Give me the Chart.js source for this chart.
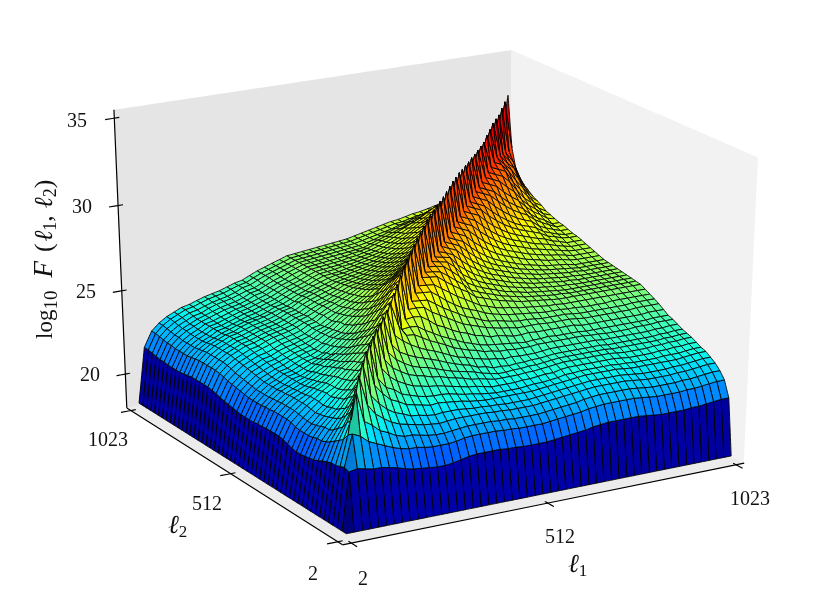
<!DOCTYPE html>
<html>
<head>
<meta charset="utf-8">
<script src="https://cdn.jsdelivr.net/npm/chart.js@4"></script>
<style>
  body { margin: 0; background: #fff; }
  canvas { display: block; }
</style>
</head>
<body>
<canvas id="chart" width="813" height="613"></canvas>
<script>
// grid positions on both axes
var gridValues = [2,22,43,63,84,104,124,145,165,186,206,226,247,267,288,308,329,349,369,390,410,431,451,471,492,512,533,553,573,594,614,635,655,675,696,716,737,757,777,798,818,839,859,879,900,920,941,961,981,1002,1023];
var l1Ticks = [2, 512, 1023];
var l2Ticks = [2, 512, 1023];
var zTicks = [20, 25, 30, 35];

// log10 F, row i holds columns 0..i (F is symmetric)
var heights = [
[18.3],
[18.3,21.6],
[18.3,21.7,23.5],
[18.3,21.6,23.3,25.8],
[18.3,21.5,22.9,23.9,26.3],
[18.3,21.5,22.7,23.6,24.6,26.8],
[18.3,21.4,22.5,23.2,24,24.9,27.2],
[18.3,21.3,22.3,23,23.65,24.35,25.25,27.4],
[18.3,21.15,22.15,22.75,23.35,23.95,24.7,25.4,27.6],
[18.3,21.05,22.05,22.6,23.15,23.65,24.25,24.8,25.75,27.8],
[18.3,21,22.05,22.6,23.05,23.5,24.05,24.6,25.2,26,27.9],
[18.3,20.95,21.95,22.5,22.95,23.3,23.8,24.25,24.85,25.45,26.2,28.05],
[18.3,20.9,21.9,22.4,22.85,23.25,23.7,24.1,24.6,25.15,25.7,26.4,28.2],
[18.3,20.9,21.9,22.35,22.8,23.15,23.6,23.95,24.4,24.9,25.4,25.9,26.7,28.4],
[18.3,20.95,21.9,22.35,22.75,23.1,23.5,23.85,24.3,24.75,25.15,25.65,26.3,27.05,28.7],
[18.3,21.05,21.95,22.4,22.8,23.15,23.55,23.8,24.2,24.65,25,25.45,26,26.4,26.6,29],
[18.3,21.15,22.05,22.45,22.85,23.15,23.5,23.8,24.15,24.5,24.9,25.3,25.75,26.35,26.65,26.95,29.3],
[18.3,21.2,22.1,22.5,22.85,23.15,23.45,23.75,24.05,24.45,24.75,25.15,25.55,26.1,26.6,27,27.3,29.6],
[18.3,21.2,22.1,22.5,22.85,23.1,23.4,23.65,23.95,24.3,24.6,25,25.4,25.85,26.3,26.95,27.3,27.55,29.8],
[18.3,21.2,22.1,22.5,22.85,23.05,23.3,23.55,23.85,24.2,24.45,24.8,25.2,25.65,26.05,26.65,27.25,27.5,27.8,30],
[18.3,21.2,22.1,22.5,22.85,23.05,23.25,23.5,23.75,24.1,24.35,24.65,25,25.45,25.8,26.3,26.9,27.45,27.75,28,30.2],
[18.3,21.15,22.05,22.45,22.8,23,23.2,23.4,23.7,23.95,24.25,24.5,24.8,25.2,25.6,26.1,26.65,27.15,27.7,27.95,28.25,30.35],
[18.3,21.15,22.05,22.45,22.8,23,23.2,23.35,23.6,23.9,24.15,24.4,24.7,25.05,25.4,25.85,26.4,26.85,27.4,27.9,28.2,28.35,30.5],
[18.3,21.1,22,22.4,22.75,22.95,23.2,23.3,23.5,23.8,24,24.2,24.55,24.9,25.2,25.65,26.15,26.6,27.05,27.6,28.15,28.3,28.45,30.65],
[18.3,21.1,22,22.4,22.75,22.95,23.2,23.3,23.5,23.7,23.9,24.15,24.45,24.8,25.05,25.5,25.9,26.35,26.75,27.3,27.8,28.2,28.4,28.55,30.8],
[18.3,21.1,22,22.4,22.75,22.95,23.2,23.3,23.5,23.7,23.8,24,24.35,24.65,24.9,25.3,25.75,26.1,26.5,27,27.5,27.9,28.3,28.45,28.6,30.9],
[18.3,21.1,22,22.4,22.75,22.95,23.2,23.3,23.5,23.7,23.8,24,24.3,24.6,24.8,25.2,25.6,25.95,26.3,26.75,27.2,27.55,27.95,28.35,28.5,28.7,30.95],
[18.3,21.15,22.05,22.45,22.8,23,23.2,23.35,23.55,23.7,23.85,23.95,24.2,24.5,24.75,25.05,25.45,25.75,26.15,26.5,26.95,27.25,27.6,28,28.4,28.55,28.8,31],
[18.3,21.2,22.1,22.5,22.85,23.05,23.25,23.4,23.55,23.75,23.85,24,24.25,24.5,24.7,25.05,25.35,25.6,25.95,26.25,26.6,26.85,27.15,27.5,27.9,28.35,28.6,28.85,31.05],
[18.3,21.25,22.15,22.55,22.9,23.1,23.3,23.4,23.6,23.75,23.9,24,24.2,24.45,24.65,24.95,25.25,25.55,25.8,26.1,26.45,26.65,26.9,27.2,27.55,27.95,28.4,28.65,28.9,31.1],
[18.3,21.3,22.2,22.6,22.95,23.15,23.35,23.45,23.65,23.8,23.9,24.05,24.2,24.45,24.6,24.85,25.2,25.45,25.7,25.95,26.3,26.5,26.7,26.95,27.25,27.6,28,28.45,28.7,29,31.2],
[18.3,21.35,22.25,22.65,23,23.2,23.4,23.5,23.65,23.85,23.95,24.05,24.2,24.45,24.55,24.85,25.1,25.35,25.6,25.85,26.15,26.35,26.55,26.75,27,27.3,27.65,28.05,28.5,28.8,29.1,31.3],
[18.3,21.45,22.35,22.75,23.05,23.25,23.45,23.6,23.75,23.9,24,24.1,24.25,24.5,24.6,24.9,25.1,25.3,25.55,25.8,26.05,26.2,26.4,26.6,26.8,27.05,27.35,27.7,28.1,28.6,28.9,29.2,31.4],
[18.3,21.5,22.4,22.8,23.1,23.3,23.5,23.6,23.8,23.95,24.05,24.15,24.3,24.5,24.6,24.85,25.1,25.3,25.5,25.7,25.95,26.1,26.25,26.45,26.65,26.85,27.1,27.4,27.75,28.2,28.7,29,29.3,31.45],
[18.3,21.55,22.45,22.85,23.15,23.35,23.55,23.65,23.8,23.95,24.05,24.15,24.3,24.5,24.65,24.85,25.1,25.25,25.45,25.65,25.85,26,26.15,26.3,26.5,26.7,26.9,27.15,27.45,27.85,28.3,28.8,29.1,29.4,31.5],
[18.3,21.55,22.45,22.85,23.15,23.35,23.55,23.65,23.8,23.95,24.05,24.15,24.3,24.5,24.6,24.85,25.05,25.2,25.4,25.6,25.8,25.9,26.05,26.2,26.35,26.55,26.75,26.95,27.2,27.55,27.95,28.4,28.9,29.2,29.5,31.5],
[18.3,21.55,22.45,22.85,23.15,23.35,23.55,23.65,23.8,23.95,24.05,24.15,24.3,24.5,24.6,24.85,25.05,25.2,25.35,25.55,25.75,25.85,25.95,26.1,26.25,26.4,26.6,26.8,27,27.3,27.65,28.05,28.5,29,29.3,29.55,31.55],
[18.3,21.55,22.45,22.85,23.15,23.35,23.55,23.65,23.8,23.95,24.05,24.15,24.3,24.5,24.6,24.85,25.05,25.2,25.35,25.5,25.7,25.8,25.9,26,26.15,26.3,26.45,26.65,26.85,27.1,27.4,27.75,28.15,28.6,29.1,29.35,29.65,31.55],
[18.3,21.55,22.45,22.85,23.15,23.35,23.55,23.65,23.8,23.95,24.05,24.15,24.3,24.5,24.6,24.85,25.05,25.2,25.35,25.5,25.65,25.75,25.85,25.95,26.05,26.2,26.35,26.5,26.7,26.95,27.2,27.5,27.85,28.25,28.7,29.15,29.45,29.75,31.6],
[18.3,21.5,22.4,22.8,23.1,23.3,23.5,23.6,23.8,23.95,24.05,24.15,24.3,24.45,24.55,24.75,25,25.15,25.3,25.45,25.6,25.7,25.8,25.9,26,26.1,26.25,26.4,26.55,26.8,27.05,27.3,27.6,27.95,28.35,28.75,29.25,29.55,29.8,31.6],
[18.3,21.45,22.35,22.75,23.05,23.25,23.45,23.6,23.75,23.9,24,24.1,24.25,24.45,24.55,24.75,24.95,25.1,25.3,25.45,25.6,25.7,25.75,25.85,25.95,26.05,26.15,26.3,26.45,26.65,26.9,27.15,27.4,27.7,28.05,28.4,28.85,29.35,29.6,29.9,31.65],
[18.3,21.4,22.3,22.7,23,23.2,23.45,23.55,23.7,23.85,24,24.1,24.25,24.4,24.55,24.75,24.95,25.1,25.25,25.45,25.6,25.65,25.7,25.8,25.9,26,26.1,26.2,26.35,26.55,26.75,27,27.25,27.5,27.8,28.1,28.5,28.95,29.4,29.7,30,31.7],
[18.3,21.4,22.3,22.7,23,23.2,23.45,23.55,23.7,23.85,24,24.1,24.25,24.4,24.55,24.75,24.95,25.1,25.25,25.45,25.6,25.65,25.7,25.8,25.85,25.95,26.05,26.15,26.25,26.45,26.65,26.85,27.1,27.35,27.6,27.85,28.2,28.6,29,29.5,29.8,30.1,31.75],
[18.3,21.4,22.3,22.7,23,23.2,23.45,23.55,23.7,23.85,24,24.1,24.25,24.4,24.55,24.75,24.95,25.1,25.25,25.45,25.6,25.65,25.7,25.75,25.85,25.9,26,26.1,26.2,26.35,26.55,26.75,26.95,27.2,27.45,27.65,27.95,28.3,28.65,29.1,29.6,29.9,30.2,31.95],
[18.3,21.4,22.3,22.7,23,23.2,23.45,23.55,23.7,23.85,24,24.1,24.25,24.4,24.55,24.75,24.95,25.1,25.25,25.45,25.6,25.65,25.7,25.75,25.8,25.9,25.95,26.05,26.15,26.3,26.45,26.65,26.85,27.05,27.3,27.5,27.75,28.05,28.35,28.75,29.2,29.7,30,30.3,32.1],
[18.3,21.45,22.35,22.75,23.05,23.25,23.45,23.6,23.75,23.9,24,24.1,24.25,24.45,24.55,24.75,24.95,25.1,25.3,25.45,25.6,25.65,25.7,25.75,25.8,25.85,25.95,26,26.1,26.25,26.4,26.55,26.75,26.95,27.15,27.35,27.6,27.85,28.1,28.45,28.85,29.3,29.8,30.1,30.4,32.3],
[18.3,21.45,22.35,22.75,23.05,23.25,23.45,23.6,23.75,23.9,24,24.1,24.25,24.45,24.55,24.75,24.95,25.1,25.3,25.45,25.6,25.65,25.7,25.75,25.8,25.85,25.9,25.95,26,26.15,26.3,26.45,26.6,26.75,26.9,27.05,27.25,27.5,27.7,28,28.3,28.7,29.1,29.6,29.9,30.3,32.35],
[18.3,21.5,22.4,22.8,23.1,23.3,23.5,23.6,23.8,23.95,24.05,24.15,24.3,24.45,24.55,24.75,25,25.15,25.3,25.45,25.6,25.65,25.7,25.75,25.8,25.85,25.9,25.95,26,26.1,26.2,26.35,26.5,26.65,26.8,26.9,27.05,27.25,27.4,27.65,27.9,28.2,28.6,29,29.5,29.8,30.2,32.4],
[18.3,21.55,22.45,22.85,23.15,23.35,23.55,23.65,23.8,23.95,24.05,24.15,24.3,24.5,24.6,24.8,25,25.15,25.3,25.45,25.6,25.65,25.7,25.75,25.8,25.85,25.9,25.95,26,26.1,26.2,26.3,26.4,26.5,26.65,26.75,26.9,27.05,27.2,27.4,27.6,27.85,28.15,28.5,28.9,29.4,29.7,30.1,32.6],
[18.3,21.6,22.5,22.9,23.2,23.4,23.6,23.7,23.85,24,24.1,24.2,24.35,24.5,24.6,24.8,25,25.15,25.3,25.45,25.6,25.65,25.7,25.75,25.8,25.85,25.9,25.95,26,26.1,26.2,26.3,26.4,26.5,26.6,26.65,26.75,26.85,26.9,27.1,27.25,27.45,27.65,27.9,28.2,28.5,28.9,29.5,30,32.8],
[18.3,21.6,22.5,22.9,23.2,23.4,23.6,23.7,23.85,24,24.1,24.2,24.35,24.5,24.6,24.8,25,25.15,25.3,25.45,25.6,25.65,25.7,25.75,25.8,25.85,25.9,25.95,26,26.1,26.2,26.3,26.4,26.5,26.6,26.65,26.75,26.85,26.9,27,27.1,27.2,27.4,27.55,27.7,27.9,28.1,28.4,28.8,30,33]
];

var zLow = 17.94, zHigh = 35.47;
var colorLow = 18.3, colorHigh = 32.6;
var pad = 1 / 48;
// a tiny tension keeps Chart.js off its fast line path, which merges points sharing a pixel column
var straight = 0.000001;

// mplot3d style camera
var elev = 25 * Math.PI / 180, azim = -120 * Math.PI / 180, dist = 10;
var centerX = 430.5, centerY = 287.3, scaleX = 4614, scaleY = 3330;
var n = [Math.cos(elev) * Math.cos(azim), Math.cos(elev) * Math.sin(azim), Math.sin(elev)];
var u = [0.866, -0.5, 0];
var v = [n[1] * u[2] - n[2] * u[1], n[2] * u[0] - n[0] * u[2], n[0] * u[1] - n[1] * u[0]];

function projectUnit(a, b, c) {
  var d = [a - 0.5, b - 0.5, c - 0.5];
  var w = dist - (n[0] * d[0] + n[1] * d[1] + n[2] * d[2]);
  return {
    x: centerX + scaleX * (u[0] * d[0] + u[1] * d[1]) / w,
    y: centerY - scaleY * (v[0] * d[0] + v[1] * d[1] + v[2] * d[2]) / w,
    w: w
  };
}
function axisFrac(l) {
  return pad + (1 - 2 * pad) * (l - 2) / 1021;
}
function zFrac(z) {
  return (z - zLow) / (zHigh - zLow);
}
function heightAt(i, j) {
  return i >= j ? heights[i][j] : heights[j][i];
}

// jet colormap segments
function seg(points, t) {
  for (var k = 1; k < points.length; k++) {
    if (t <= points[k][0]) {
      var p = points[k - 1], q = points[k];
      return p[1] + (q[1] - p[1]) * (t - p[0]) / (q[0] - p[0]);
    }
  }
  return points[points.length - 1][1];
}
function jet(t, shade) {
  t = Math.min(1, Math.max(0, t));
  var r = seg([[0,0],[0.35,0],[0.66,1],[0.89,1],[1,0.5]], t);
  var g = seg([[0,0],[0.125,0],[0.375,1],[0.64,1],[0.91,0],[1,0]], t);
  var b = seg([[0,0.5],[0.11,1],[0.34,1],[0.65,0],[1,0]], t);
  return "rgb(" + Math.round(r * 255 * shade) + "," + Math.round(g * 255 * shade) + "," + Math.round(b * 255 * shade) + ")";
}

var faces = [];
for (var i = 0; i < gridValues.length - 1; i++) {
  for (var j = 0; j < gridValues.length - 1; j++) {
    var h00 = heightAt(i, j), h10 = heightAt(i + 1, j), h11 = heightAt(i + 1, j + 1), h01 = heightAt(i, j + 1);
    var corners = [
      projectUnit(axisFrac(gridValues[i]), axisFrac(gridValues[j]), zFrac(h00)),
      projectUnit(axisFrac(gridValues[i + 1]), axisFrac(gridValues[j]), zFrac(h10)),
      projectUnit(axisFrac(gridValues[i + 1]), axisFrac(gridValues[j + 1]), zFrac(h11)),
      projectUnit(axisFrac(gridValues[i]), axisFrac(gridValues[j + 1]), zFrac(h01))
    ];
    // slope in data units drives the shading, steep walls go dark
    var step = 20.42;
    var sx = (h10 + h11 - h00 - h01) / 2 / step;
    var sy = (h01 + h11 - h00 - h10) / 2 / step;
    var s = (sx + sy + 0.5) / Math.sqrt(1 + sx * sx + sy * sy);
    var shade = Math.min(1, Math.max(0.63, 1 - 3.7 * (s - 0.55)));
    var mean = (h00 + h10 + h11 + h01) / 4;
    faces.push({
      depth: (corners[0].w + corners[1].w + corners[2].w + corners[3].w) / 4,
      color: jet((mean - colorLow) / (colorHigh - colorLow), shade),
      points: corners.concat([corners[0]])
    });
  }
}
// first dataset is painted last, so nearest faces go first
faces.sort(function (p, q) { return p.depth - q.depth; });

var datasets = faces.map(function (f) {
  return {
    data: f.points.map(function (p) { return { x: p.x, y: p.y }; }),
    showLine: true,
    fill: "shape",
    backgroundColor: f.color,
    borderColor: "rgba(0,0,0,0.9)",
    borderWidth: 1,
    pointRadius: 0,
    tension: straight
  };
});

function lineSet(points, width) {
  return {
    data: points,
    showLine: true,
    fill: false,
    borderColor: "#000",
    borderWidth: width,
    pointRadius: 0,
    tension: straight
  };
}
function paneSet(points, color) {
  return {
    data: points.concat([points[0]]),
    showLine: true,
    fill: "shape",
    backgroundColor: color,
    borderColor: color,
    borderWidth: 0,
    pointRadius: 0,
    tension: straight
  };
}

// axes and ticks sit under the surface
l1Ticks.forEach(function (t) {
  var a = axisFrac(t);
  datasets.push(lineSet([projectUnit(a, -0.025, 0), projectUnit(a, 0.012, 0)], 1.2));
});
l2Ticks.forEach(function (t) {
  var b = axisFrac(t);
  datasets.push(lineSet([projectUnit(-0.025, b, 0), projectUnit(0.012, b, 0)], 1.2));
});
zTicks.forEach(function (t) {
  var c = zFrac(t);
  datasets.push(lineSet([projectUnit(-0.022, 1, c), projectUnit(0.012, 1, c)], 1.2));
});
datasets.push(lineSet([projectUnit(0, 0, 0), projectUnit(1, 0, 0)], 1.2));
datasets.push(lineSet([projectUnit(0, 0, 0), projectUnit(0, 1, 0)], 1.2));
datasets.push(lineSet([projectUnit(0, 1, 0), projectUnit(0, 1, 1)], 1.2));
datasets.push(paneSet([projectUnit(0, 0, 0), projectUnit(1, 0, 0), projectUnit(1, 1, 0), projectUnit(0, 1, 0)], "#ececec"));
datasets.push(paneSet([projectUnit(1, 0, 0), projectUnit(1, 1, 0), projectUnit(1, 1, 1), projectUnit(1, 0, 1)], "#f2f2f2"));
datasets.push(paneSet([projectUnit(0, 1, 0), projectUnit(1, 1, 0), projectUnit(1, 1, 1), projectUnit(0, 1, 1)], "#e5e5e5"));

var textLabels = {
  id: "textLabels",
  afterDraw: function (chart) {
    var ctx = chart.ctx;
    var serif = '"Liberation Serif", "DejaVu Serif", serif';
    ctx.save();
    ctx.fillStyle = "#111";
    ctx.textBaseline = "middle";
    ctx.textAlign = "center";
    ctx.font = "20px " + serif;
    var tickText = [
      [String(zTicks[3]), 77, 122], [String(zTicks[2]), 82, 208], [String(zTicks[1]), 86, 293], [String(zTicks[0]), 90, 376],
      [String(l1Ticks[0]), 363, 580], [String(l1Ticks[1]), 560, 538], [String(l1Ticks[2]), 750, 500],
      [String(l2Ticks[0]), 313, 575], [String(l2Ticks[1]), 207, 505], [String(l2Ticks[2]), 108, 441]
    ];
    tickText.forEach(function (t) {
      ctx.fillText(t[0], t[1], t[2]);
    });

    // runs of [text, font, baseline shift, gap after], drawn one after the other
    function runs(parts, x, y) {
      ctx.textAlign = "left";
      ctx.textBaseline = "alphabetic";
      parts.forEach(function (p) {
        ctx.font = p[1] + serif;
        ctx.fillText(p[0], x, y + p[2]);
        x += ctx.measureText(p[0]).width + (p[3] || 0);
      });
    }
    runs([["\u2113", "italic 26px ", 0, 0], ["1", "17px ", 4]], 568, 572);
    runs([["\u2113", "italic 26px ", 0, 0], ["2", "17px ", 4]], 168, 533);

    ctx.save();
    ctx.translate(52, 339);
    ctx.rotate(-Math.PI / 2);
    runs([
      ["log", "23px ", 0, 0], ["10", "19px ", 5, 13],
      ["F", "italic 27px ", 0, 9],
      ["(", "26px ", 0, 2], ["\u2113", "italic 26px ", 0, 0], ["1", "18px ", 4, 0], [",", "26px ", 0, 7],
      ["\u2113", "italic 26px ", 0, 0], ["2", "18px ", 4, 0], [")", "26px ", 0, 0]
    ], 0, 0);
    ctx.restore();
    ctx.restore();
  }
};

new Chart(document.getElementById("chart"), {
  type: "scatter",
  data: { datasets: datasets },
  options: {
    responsive: false,
    animation: false,
    events: [],
    layout: { padding: 0 },
    plugins: { legend: { display: false }, tooltip: { enabled: false } },
    scales: {
      x: { type: "linear", min: 0, max: 813, display: false },
      y: { type: "linear", min: 0, max: 613, reverse: true, display: false }
    }
  },
  plugins: [textLabels]
});
</script>
</body>
</html>
